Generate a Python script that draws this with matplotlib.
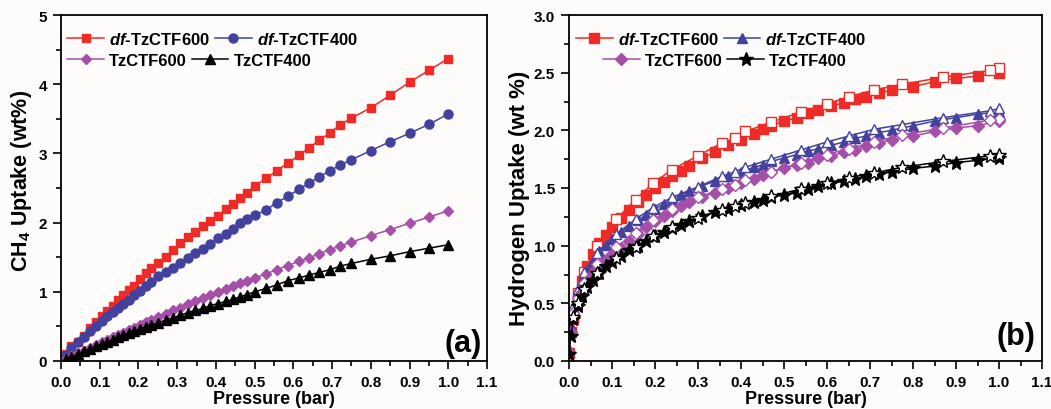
import matplotlib
matplotlib.use("Agg")
import matplotlib.pyplot as plt
from matplotlib.ticker import MultipleLocator

plt.rcParams['font.family'] = ['Liberation Sans', 'DejaVu Sans']
plt.rcParams['font.weight'] = 'bold'
plt.rcParams['mathtext.fontset'] = 'custom'
plt.rcParams['mathtext.rm'] = 'Liberation Sans:bold'
plt.rcParams['mathtext.it'] = 'Liberation Sans:bold:italic'
plt.rcParams['mathtext.bf'] = 'Liberation Sans:bold'

# ---------------- Data: panel (a) CH4 uptake ----------------
p_a = [0.013, 0.027, 0.045, 0.059, 0.075, 0.09, 0.105, 0.119, 0.133, 0.148, 0.16, 0.175,
       0.189, 0.203, 0.219, 0.233, 0.25, 0.27, 0.288, 0.307, 0.327, 0.347, 0.366, 0.385,
       0.405, 0.425, 0.444, 0.463, 0.48, 0.50, 0.53, 0.557, 0.586, 0.614, 0.64, 0.667,
       0.695, 0.72, 0.75, 0.80, 0.85, 0.90, 0.95, 1.0]
ch4_df600 = [0.10, 0.22, 0.27, 0.36, 0.48, 0.56, 0.65, 0.72, 0.80, 0.88, 0.95, 1.02,
             1.08, 1.18, 1.27, 1.34, 1.42, 1.50, 1.60, 1.70, 1.79, 1.87, 1.95, 2.03,
             2.10, 2.19, 2.27, 2.35, 2.43, 2.53, 2.64, 2.75, 2.86, 2.97, 3.08, 3.19,
             3.30, 3.41, 3.51, 3.66, 3.84, 4.03, 4.20, 4.37]
ch4_df400 = [0.08, 0.19, 0.27, 0.34, 0.43, 0.51, 0.58, 0.65, 0.71, 0.77, 0.83, 0.88,
             0.95, 1.01, 1.08, 1.14, 1.23, 1.29, 1.34, 1.42, 1.49, 1.56, 1.62, 1.69,
             1.78, 1.84, 1.91, 1.99, 2.05, 2.11, 2.18, 2.29, 2.38, 2.48, 2.57, 2.66,
             2.75, 2.83, 2.91, 3.04, 3.17, 3.29, 3.42, 3.57]
ch4_600 = [0.03, 0.07, 0.11, 0.15, 0.19, 0.23, 0.27, 0.30, 0.34, 0.38, 0.41, 0.45,
           0.48, 0.52, 0.56, 0.59, 0.63, 0.68, 0.73, 0.77, 0.82, 0.86, 0.91, 0.95,
           1.00, 1.04, 1.08, 1.12, 1.15, 1.20, 1.26, 1.32, 1.38, 1.44, 1.49, 1.55,
           1.61, 1.66, 1.72, 1.81, 1.90, 1.99, 2.08, 2.17]
ch4_400 = [0.03, 0.06, 0.10, 0.14, 0.17, 0.21, 0.24, 0.27, 0.31, 0.34, 0.37, 0.40,
           0.43, 0.46, 0.49, 0.52, 0.55, 0.59, 0.62, 0.66, 0.70, 0.73, 0.76, 0.80,
           0.83, 0.86, 0.89, 0.93, 0.96, 1.00, 1.05, 1.10, 1.16, 1.20, 1.24, 1.28,
           1.32, 1.37, 1.41, 1.47, 1.52, 1.58, 1.63, 1.68]

# ---------------- Data: panel (b) H2 uptake ----------------
p_ads = [0.0, 0.004, 0.01, 0.02, 0.03, 0.043, 0.055, 0.07, 0.085, 0.1, 0.12, 0.14, 0.16,
         0.18, 0.2, 0.22, 0.24, 0.26, 0.28, 0.31, 0.34, 0.37, 0.4, 0.43, 0.45, 0.47, 0.5,
         0.53, 0.555, 0.58, 0.61, 0.64, 0.665, 0.69, 0.72, 0.75, 0.8, 0.85, 0.9, 0.95, 1.0]
h2_df600_ads = [0.07, 0.25, 0.36, 0.55, 0.69, 0.82, 0.93, 1.02, 1.09, 1.16, 1.24, 1.31, 1.38,
                1.44, 1.50, 1.55, 1.60, 1.65, 1.69, 1.76, 1.81, 1.87, 1.92, 1.97, 2.01, 2.04, 2.08,
                2.11, 2.15, 2.18, 2.21, 2.24, 2.27, 2.29, 2.32, 2.35, 2.38, 2.42, 2.45, 2.47, 2.50]
h2_df400_ads = [0.10, 0.30, 0.45, 0.60, 0.70, 0.79, 0.87, 0.95, 1.01, 1.06, 1.12, 1.17, 1.22,
                1.27, 1.32, 1.36, 1.40, 1.44, 1.47, 1.52, 1.56, 1.60, 1.64, 1.68, 1.70, 1.73, 1.76,
                1.79, 1.82, 1.84, 1.87, 1.90, 1.93, 1.95, 1.98, 2.00, 2.04, 2.08, 2.11, 2.14, 2.16]
h2_600_ads = [0.08, 0.25, 0.38, 0.51, 0.60, 0.69, 0.76, 0.82, 0.88, 0.93, 0.98, 1.04, 1.10,
              1.16, 1.21, 1.26, 1.30, 1.34, 1.38, 1.42, 1.46, 1.50, 1.54, 1.58, 1.61, 1.64, 1.67,
              1.70, 1.72, 1.76, 1.78, 1.81, 1.83, 1.86, 1.89, 1.92, 1.95, 1.99, 2.02, 2.04, 2.08]
h2_400_ads = [0.06, 0.22, 0.36, 0.48, 0.56, 0.64, 0.70, 0.76, 0.82, 0.86, 0.91, 0.96, 1.00,
              1.04, 1.08, 1.12, 1.15, 1.18, 1.21, 1.26, 1.29, 1.32, 1.35, 1.38, 1.40, 1.42, 1.44,
              1.46, 1.49, 1.52, 1.54, 1.56, 1.58, 1.60, 1.62, 1.64, 1.67, 1.69, 1.72, 1.74, 1.76]

p_des = [1.0, 0.98, 0.87, 0.775, 0.71, 0.65, 0.6, 0.54, 0.47, 0.41, 0.385, 0.355, 0.3,
         0.24, 0.195, 0.155, 0.11, 0.065, 0.035, 0.02, 0.01]
h2_df600_des = [2.54, 2.52, 2.46, 2.40, 2.35, 2.29, 2.23, 2.16, 2.07, 1.99, 1.93, 1.89, 1.78,
                1.66, 1.54, 1.40, 1.23, 1.00, 0.77, 0.59, 0.42]
h2_df400_des = [2.19, 2.17, 2.11, 2.05, 2.01, 1.95, 1.90, 1.83, 1.75, 1.68, 1.64, 1.60, 1.51,
                1.42, 1.33, 1.23, 1.10, 0.94, 0.77, 0.62, 0.48]
h2_600_des = [2.10, 2.09, 2.02, 1.96, 1.90, 1.84, 1.79, 1.72, 1.64, 1.57, 1.53, 1.49, 1.42,
              1.32, 1.22, 1.11, 0.99, 0.84, 0.68, 0.55, 0.42]
h2_400_des = [1.79, 1.78, 1.73, 1.68, 1.63, 1.59, 1.54, 1.49, 1.43, 1.37, 1.34, 1.31, 1.24,
              1.16, 1.08, 0.99, 0.89, 0.76, 0.62, 0.50, 0.38]

labels = ['$df$-TzCTF600', '$df$-TzCTF400', 'TzCTF600', 'TzCTF400']
x_ticks = [0.0, 0.1, 0.2, 0.3, 0.4, 0.5, 0.6, 0.7, 0.8, 0.9, 1.0, 1.1]
x_ticklabels = ['0.0', '0.1', '0.2', '0.3', '0.4', '0.5', '0.6', '0.7', '0.8', '0.9', '1.0', '1.1']
ya_ticks = [0, 1, 2, 3, 4, 5]
ya_ticklabels = ['0', '1', '2', '3', '4', '5']
yb_ticks = [0.0, 0.5, 1.0, 1.5, 2.0, 2.5, 3.0]
yb_ticklabels = ['0.0', '0.5', '1.0', '1.5', '2.0', '2.5', '3.0']

RED = '#ee2b26'
BLUE = '#42429e'
PURPLE = '#a64fa8'
BLACK = '#000000'
BG = '#fdfcfa'

fig = plt.figure(figsize=(10.51, 4.10), dpi=100, facecolor=BG)
W, H = 1051, 410
axa = fig.add_axes([61 / W, (H - 362) / H, (487 - 61) / W, (362 - 16) / H], facecolor=BG)
axb = fig.add_axes([569 / W, (H - 362) / H, (1042 - 569) / W, (362 - 16) / H], facecolor=BG)

lw = 1.1
# Panel a
ha = []
ha.append(axa.plot(p_a, ch4_df600, '-s', color=RED, ms=6.3, lw=lw, mec=RED)[0])
ha.append(axa.plot(p_a, ch4_df400, '-o', color=BLUE, ms=6.5, lw=lw, mec=BLUE)[0])
ha.append(axa.plot(p_a, ch4_600, '-D', color=PURPLE, ms=5.5, lw=lw, mec=PURPLE)[0])
ha.append(axa.plot(p_a, ch4_400, '-^', color=BLACK, ms=6.5, lw=lw, mec=BLACK)[0])

# Panel b
specs = [(h2_df600_ads, h2_df600_des, RED, 's', 6.5),
         (h2_df400_ads, h2_df400_des, BLUE, '^', 7.5),
         (h2_600_ads, h2_600_des, PURPLE, 'D', 6.0),
         (h2_400_ads, h2_400_des, BLACK, '*', 10.5)]
hb = []
for ads, des, c, m, ms in specs:
    h = axb.plot(p_ads, ads, '-' + m, color=c, ms=ms, lw=lw, mec=c, mfc=c)[0]
    axb.plot(p_des, des, '-' + m, color=c, ms=ms, lw=lw, mec=c, mfc='white', mew=1.0)
    hb.append(h)

for ax in (axa, axb):
    ax.set_xlim(0, 1.1)
    ax.set_xticks(x_ticks)
    ax.set_xticklabels(x_ticklabels, fontweight='bold')
    ax.xaxis.set_minor_locator(MultipleLocator(0.05))
    ax.tick_params(which='both', direction='out', top=False, right=False,
                   labelsize=11, width=1.2)
    ax.tick_params(which='major', length=6, pad=4)
    ax.tick_params(which='minor', length=3.5)
    for s in ax.spines.values():
        s.set_linewidth(1.3)
    ax.set_xlabel('Pressure (bar)', fontsize=13, fontweight='bold', labelpad=1)

axa.set_ylim(0, 5)
axa.set_yticks(ya_ticks)
axa.set_yticklabels(ya_ticklabels, fontweight='bold')
axa.yaxis.set_minor_locator(MultipleLocator(0.5))
axa.set_ylabel('CH$_4$ Uptake (wt%)', fontsize=15.5, fontweight='bold')
axa.yaxis.set_label_coords(-0.063, 0.523)

axb.set_ylim(0, 3.0)
axb.set_yticks(yb_ticks)
axb.set_yticklabels(yb_ticklabels, fontweight='bold')
axb.yaxis.set_minor_locator(MultipleLocator(0.25))
axb.set_ylabel('Hydrogen Uptake (wt %)', fontsize=16, fontweight='bold')
axb.yaxis.set_label_coords(-0.083, 0.474)

axa.text(0.988, 0.01, '(a)', transform=axa.transAxes, ha='right', va='bottom',
         fontsize=22, fontweight='bold')
axb.text(0.985, 0.03, '(b)', transform=axb.transAxes, ha='right', va='bottom',
         fontsize=22, fontweight='bold')

prop = {'weight': 'bold', 'size': 12}
leg_kw = dict(frameon=False, ncol=2, prop=prop, handlelength=2.2, handletextpad=0.3,
              columnspacing=0.3, borderpad=0, borderaxespad=0)

la1 = axa.legend(ha[:2], labels[:2], loc='upper left', bbox_to_anchor=(0.015, 0.955), **leg_kw)
axa.add_artist(la1)
axa.legend(ha[2:], labels[2:], loc='upper left', bbox_to_anchor=(0.015, 0.89), **leg_kw)

lb1 = axb.legend(hb[:2], labels[:2], loc='upper left', bbox_to_anchor=(0.015, 0.955), **leg_kw)
axb.add_artist(lb1)
axb.legend(hb[2:], labels[2:], loc='upper left', bbox_to_anchor=(0.072, 0.89), **leg_kw)

fig.savefig('out.png', dpi=100, facecolor=BG)
